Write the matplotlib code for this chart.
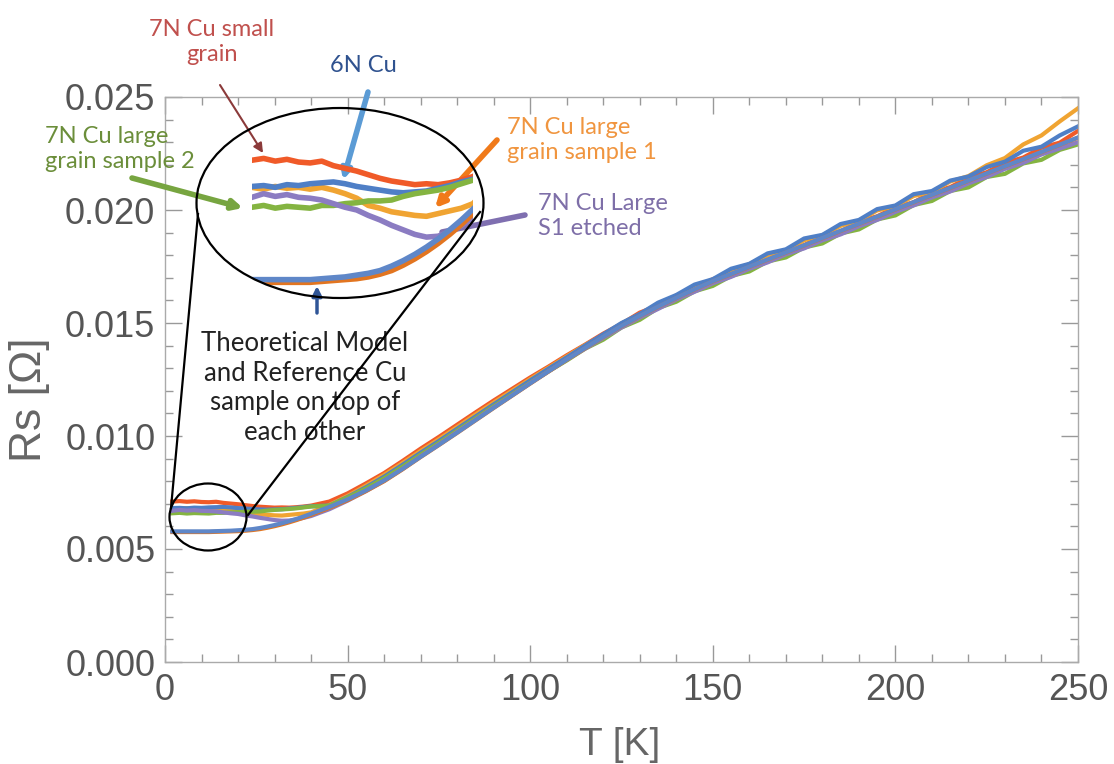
import matplotlib
matplotlib.use("Agg")
import matplotlib.pyplot as plt
from matplotlib.patches import Ellipse
from matplotlib.lines import Line2D
from matplotlib.ticker import MultipleLocator, FormatStrFormatter

# temperature grid [K]
T = [2, 4, 6, 8, 10, 12, 14, 16, 18, 20, 22, 24, 26, 28, 30, 32, 34, 36, 38, 40,
     45, 50, 55, 60, 65, 70, 75, 80, 85, 90, 95, 100, 105, 110, 115, 120, 125, 130,
     135, 140, 145, 150, 155, 160, 165, 170, 175, 180, 185, 190, 195, 200, 205, 210,
     215, 220, 225, 230, 235, 240, 245, 250]

# surface resistance [Ohm]
theory = [0.00575, 0.00575, 0.00575, 0.00575, 0.00575, 0.00575, 0.00576, 0.00577, 0.00578, 0.00579,
          0.00581, 0.00584, 0.00588, 0.00594, 0.00601, 0.00609, 0.00618, 0.00628, 0.00639, 0.00651,
          0.00682, 0.00716, 0.00756, 0.00800, 0.00852, 0.00907, 0.00960, 0.01014, 0.01069, 0.01124,
          0.01178, 0.01232, 0.01285, 0.01337, 0.01388, 0.01438, 0.01486, 0.01530, 0.01571, 0.01610,
          0.01648, 0.01684, 0.01716, 0.01748, 0.01780, 0.01811, 0.01843, 0.01875, 0.01907, 0.01938,
          0.01970, 0.02002, 0.02034, 0.02066, 0.02097, 0.02129, 0.02161, 0.02193, 0.02224, 0.02256,
          0.02288, 0.02320]
reference = [0.00578, 0.00578, 0.00578, 0.00578, 0.00578, 0.00578, 0.00579, 0.00580, 0.00581, 0.00583,
             0.00585, 0.00588, 0.00593, 0.00599, 0.00606, 0.00614, 0.00623, 0.00633, 0.00644, 0.00656,
             0.00686, 0.00720, 0.00759, 0.00803, 0.00854, 0.00908, 0.00961, 0.01015, 0.01070, 0.01125,
             0.01179, 0.01233, 0.01286, 0.01338, 0.01389, 0.01439, 0.01487, 0.01531, 0.01572, 0.01611,
             0.01649, 0.01685, 0.01717, 0.01749, 0.01781, 0.01812, 0.01844, 0.01876, 0.01908, 0.01939,
             0.01971, 0.02003, 0.02035, 0.02067, 0.02098, 0.02130, 0.02162, 0.02194, 0.02225, 0.02257,
             0.02289, 0.02321]
small_grain = [0.00710, 0.00712, 0.00709, 0.00711, 0.00708, 0.00707, 0.00709, 0.00704, 0.00701, 0.00698,
               0.00694, 0.00690, 0.00687, 0.00685, 0.00683, 0.00684, 0.00683, 0.00685, 0.00688, 0.00692,
               0.00710, 0.00746, 0.00790, 0.00836, 0.00889, 0.00944, 0.00996, 0.01050, 0.01104, 0.01157,
               0.01208, 0.01259, 0.01307, 0.01357, 0.01404, 0.01453, 0.01496, 0.01546, 0.01577, 0.01622,
               0.01652, 0.01694, 0.01718, 0.01760, 0.01776, 0.01819, 0.01844, 0.01885, 0.01904, 0.01950,
               0.01972, 0.02012, 0.02034, 0.02078, 0.02101, 0.02143, 0.02167, 0.02209, 0.02232, 0.02276,
               0.02298, 0.02350]
cu_6n = [0.00681, 0.00682, 0.00680, 0.00683, 0.00682, 0.00684, 0.00685, 0.00686, 0.00684, 0.00681,
         0.00679, 0.00677, 0.00675, 0.00674, 0.00675, 0.00676, 0.00679, 0.00682, 0.00686, 0.00689,
         0.00692, 0.00730, 0.00773, 0.00820, 0.00872, 0.00926, 0.00978, 0.01032, 0.01086, 0.01140,
         0.01193, 0.01246, 0.01298, 0.01348, 0.01400, 0.01450, 0.01500, 0.01540, 0.01590, 0.01624,
         0.01670, 0.01694, 0.01740, 0.01762, 0.01808, 0.01826, 0.01874, 0.01890, 0.01938, 0.01956,
         0.02004, 0.02020, 0.02070, 0.02084, 0.02130, 0.02148, 0.02190, 0.02214, 0.02262, 0.02280,
         0.02330, 0.02370]
large_s2 = [0.00658, 0.00660, 0.00657, 0.00659, 0.00658, 0.00657, 0.00660, 0.00660, 0.00662, 0.00663,
            0.00665, 0.00665, 0.00666, 0.00670, 0.00673, 0.00675, 0.00677, 0.00680, 0.00684, 0.00688,
            0.00692, 0.00728, 0.00768, 0.00813, 0.00864, 0.00918, 0.00970, 0.01024, 0.01078, 0.01132,
            0.01184, 0.01236, 0.01286, 0.01334, 0.01386, 0.01426, 0.01480, 0.01514, 0.01566, 0.01594,
            0.01640, 0.01664, 0.01708, 0.01728, 0.01772, 0.01790, 0.01834, 0.01852, 0.01896, 0.01914,
            0.01958, 0.01976, 0.02022, 0.02040, 0.02084, 0.02100, 0.02146, 0.02160, 0.02206, 0.02222,
            0.02266, 0.02290]
large_s1 = [0.00680, 0.00678, 0.00681, 0.00679, 0.00680, 0.00678, 0.00680, 0.00677, 0.00673, 0.00668,
            0.00660, 0.00657, 0.00653, 0.00651, 0.00649, 0.00648, 0.00651, 0.00654, 0.00657, 0.00662,
            0.00695, 0.00735, 0.00780, 0.00828, 0.00880, 0.00934, 0.00986, 0.01040, 0.01095, 0.01148,
            0.01200, 0.01252, 0.01302, 0.01352, 0.01402, 0.01446, 0.01498, 0.01538, 0.01585, 0.01618,
            0.01664, 0.01690, 0.01732, 0.01760, 0.01800, 0.01822, 0.01866, 0.01888, 0.01930, 0.01952,
            0.01998, 0.02016, 0.02062, 0.02080, 0.02126, 0.02150, 0.02198, 0.02230, 0.02290, 0.02330,
            0.02392, 0.02450]
large_s1_etched = [0.00669, 0.00673, 0.00670, 0.00672, 0.00669, 0.00668, 0.00666, 0.00662, 0.00658, 0.00655,
                   0.00649, 0.00644, 0.00638, 0.00633, 0.00628, 0.00625, 0.00626, 0.00631, 0.00638, 0.00646,
                   0.00676, 0.00714, 0.00756, 0.00802, 0.00854, 0.00910, 0.00963, 0.01018, 0.01072, 0.01127,
                   0.01180, 0.01234, 0.01286, 0.01338, 0.01386, 0.01434, 0.01480, 0.01524, 0.01562, 0.01604,
                   0.01638, 0.01676, 0.01704, 0.01740, 0.01768, 0.01804, 0.01830, 0.01866, 0.01892, 0.01928,
                   0.01956, 0.01992, 0.02020, 0.02056, 0.02082, 0.02118, 0.02146, 0.02182, 0.02208, 0.02246,
                   0.02272, 0.02300]

series = [
    (small_grain, "#f05a28"),
    (large_s1, "#f0a432"),
    (cu_6n, "#4f7fc6"),
    (large_s2, "#84b441"),
    (large_s1_etched, "#8b7cc2"),
    (theory, "#e27520"),
    (reference, "#5f87c8"),
]

W, H = 1114, 764


def fx(x):
    return x / W


def fy(y):
    return 1 - y / H


fig = plt.figure(figsize=(W / 100, H / 100), dpi=100)
ax = fig.add_axes([fx(165), fy(662), (1078 - 165) / W, (662 - 97) / H])

for vals, col in series:
    ax.plot(T, vals, color=col, lw=3.0, solid_joinstyle="round")

ax.set_xlim(0, 250)
ax.set_ylim(0, 0.025)
ax.xaxis.set_major_locator(MultipleLocator(50))
ax.xaxis.set_minor_locator(MultipleLocator(10))
ax.yaxis.set_major_locator(MultipleLocator(0.005))
ax.yaxis.set_minor_locator(MultipleLocator(0.001))
ax.yaxis.set_major_formatter(FormatStrFormatter("%.3f"))
ax.tick_params(which="both", direction="in", top=True, right=True, color="#999999",
               labelcolor="#555555", labelsize=26, width=1)
ax.tick_params(which="major", length=12)
ax.tick_params(which="minor", length=6)
ax.tick_params(axis="y", pad=7)
ax.tick_params(axis="x", pad=8)
for lab in ax.get_xticklabels() + ax.get_yticklabels():
    lab.set_fontfamily("Liberation Sans")
for s in ax.spines.values():
    s.set_color("#aaaaaa")
    s.set_linewidth(1)

fig.text(fx(30), fy(400), "Rs [\u03a9]", rotation=90, ha="center", va="center",
         fontsize=32, color="#666666", family="Liberation Sans")
fig.text(fx(620), fy(745), "T [K]", ha="center", va="center",
         fontsize=28, color="#666666", family="Liberation Sans")

# magnified view inside the ellipse
ins = fig.add_axes([fx(252), fy(314), 221 / W, 199 / H])
ins.set_xlim(2, 40)
ins.set_ylim(0.0054, 0.0076)
ins.axis("off")
clip = Ellipse((fx(340), fy(203)), 287 / W, 190 / H, transform=fig.transFigure)
for vals, col in series:
    ln, = ins.plot(T, vals, color=col, lw=4.0, solid_joinstyle="round")
    ln.set_clip_path(clip)

fig.add_artist(Ellipse((fx(340), fy(203)), 287 / W, 190 / H, transform=fig.transFigure,
                       fill=False, ec="black", lw=1.6, zorder=5))
fig.add_artist(Ellipse((fx(208), fy(517)), 77 / W, 67 / H, transform=fig.transFigure,
                       fill=False, ec="black", lw=1.6, zorder=5))
fig.add_artist(Line2D([fx(198), fx(171)], [fy(214), fy(508)], color="black", lw=1.6, zorder=5))
fig.add_artist(Line2D([fx(248), fx(480)], [fy(515), fy(212)], color="black", lw=1.6, zorder=5))

font = "Lato"


def note(x, y, s, col, ha="center", size=17, spacing=1.27):
    fig.text(fx(x), fy(y), s, ha=ha, va="center", fontsize=size, color=col,
             family=font, linespacing=spacing)


def arrow(x0, y0, x1, y1, col, lw, head=True):
    style = "-|>" if head else "-"
    ax.annotate("", xy=(fx(x1), fy(y1)), xytext=(fx(x0), fy(y0)),
                xycoords="figure fraction", textcoords="figure fraction",
                arrowprops=dict(arrowstyle=style, color=col, lw=lw,
                                mutation_scale=14, shrinkA=0, shrinkB=0),
                annotation_clip=False)


note(212, 42, "7N Cu small\ngrain", "#c0504d")
arrow(220, 85, 263, 153, "#8b3a3a", 1.5)
note(363, 66, "6N Cu", "#2f528f")
arrow(368, 92, 343, 180, "#5b9bd5", 4)
note(45, 149, "7N Cu large\ngrain sample 2", "#6b8e3a", ha="left")
arrow(132, 178, 243, 208, "#77a540", 4)
note(507, 140, "7N Cu large\ngrain sample 1", "#f0953f", ha="left")
arrow(497, 140, 435, 208, "#f07a1a", 4)
note(538, 216, "7N Cu Large\nS1 etched", "#7e6fa8", ha="left")
arrow(525, 215, 442, 232, "#7f6fb0", 4, head=False)
note(305, 388, "Theoretical Model\nand Reference Cu\nsample on top of\neach other", "#222222",
     size=18.5, spacing=1.22)
arrow(317, 313, 317, 286, "#2f5597", 2.5)

fig.savefig("out.png", dpi=100)
